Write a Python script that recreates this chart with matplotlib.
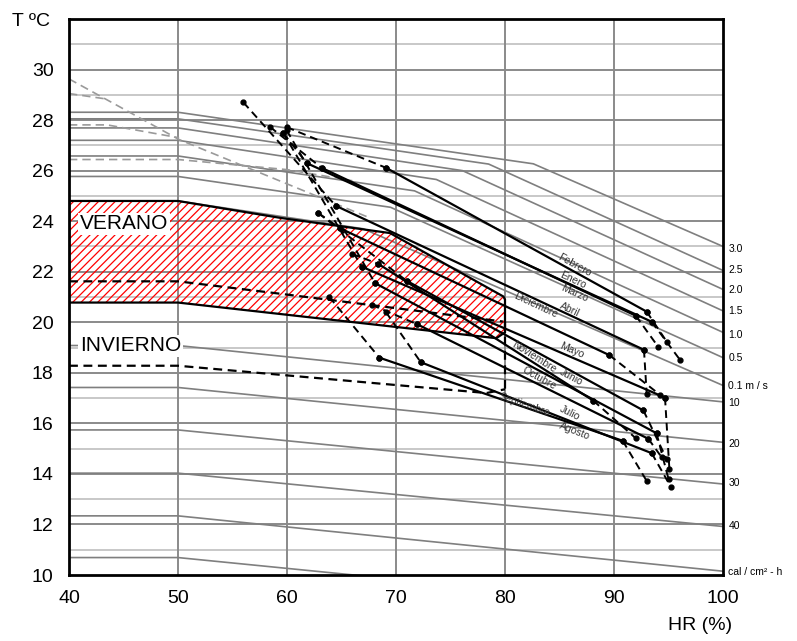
import math
import matplotlib.pyplot as plt
from matplotlib.patches import Polygon

plt.rcParams['font.family'] = ['Liberation Sans', 'DejaVu Sans']
plt.rcParams['hatch.linewidth'] = 0.9

# ejes
hr_ticks = [40, 50, 60, 70, 80, 90, 100]
t_ticks = [10, 12, 14, 16, 18, 20, 22, 24, 26, 28, 30]

# lineas de viento (m/s)
wind_labels = ['3.0', '2.5', '2.0', '1.5', '1.0', '0.5', '0.1 m / s']
wind_label_t = [22.9, 22.05, 21.27, 20.43, 19.49, 18.57, 17.46]
wind_hr = [
    [40, 50, 82.6, 100],
    [40, 50, 78.5, 100],
    [40, 50, 76.1, 100],
    [40, 50, 73.7, 100],
    [40, 50, 71.7, 100],
    [40, 50, 69.5, 100],
    [40, 50, 67.0, 100],
]
wind_t = [
    [28.31, 28.31, 26.27, 23.0],
    [28.05, 28.05, 26.26, 22.05],
    [27.69, 27.69, 26.0, 21.3],
    [27.2, 27.2, 25.65, 20.45],
    [26.58, 26.58, 25.2, 19.6],
    [25.77, 25.77, 24.55, 18.6],
    [24.8, 24.8, 23.7, 17.5],
]

# lineas de radiacion (cal / cm2 - h)
rad_labels = ['10', '20', '30', '40', 'cal / cm² - h']
rad_label_t = [16.81, 15.2, 13.64, 11.94, 10.13]
rad_start = [19.08, 17.42, 15.74, 14.03, 12.34, 10.69]
rad_end = [16.85, 15.25, 13.6, 11.92, 10.15, 8.55]

# lineas de humedad (discontinuas grises)
evap_hr = [
    [40, 50.1, 67.6],
    [40, 43.5],
    [40, 43.5, 50.1],
    [40, 50, 60.0, 66.0],
]
evap_t = [
    [29.63, 27.23, 24.13],
    [29.05, 28.83],
    [27.81, 27.81, 27.3],
    [26.44, 26.44, 26.04, 25.6],
]

# zona de confort de verano
summer_hr = [40, 50, 59.4, 69.45, 79.85, 80.0, 80.0, 79.2, 50, 40]
summer_t = [24.8, 24.8, 24.13, 23.53, 21.02, 20.9, 19.6, 19.37, 20.78, 20.78]

# zona de confort de invierno
winter_top_hr = [40, 50, 59.36, 79.8]
winter_top_t = [21.62, 21.62, 21.13, 20.03]
winter_bot_hr = [40, 50, 78.3, 80.0]
winter_bot_t = [18.28, 18.28, 17.2, 17.35]

# datos mensuales
months = ['Enero', 'Febrero', 'Marzo', 'Abril', 'Mayo', 'Junio', 'Julio',
          'Agosto', 'Septiembre', 'Octubre', 'Noviembre', 'Diciembre']
tmax_abs_hr = [58.44, 59.97, 59.66, 56.0, 59.66, 59.97, 67.77, 69.08, 63.88, 62.87, 65.93, 62.87]
tmax_abs = [27.73, 27.72, 27.49, 28.70, 27.49, 27.6, 20.69, 20.40, 21.0, 24.32, 22.71, 24.32]
tmax_hr = [63.18, 69.1, 61.8, 64.47, 66.85, 68.07, 71.9, 72.27, 68.47, 70.98, 68.38, 64.86]
tmax = [26.11, 26.11, 26.30, 24.61, 22.2, 21.55, 19.93, 18.42, 18.6, 21.64, 22.31, 23.72]
tmin_hr = [92.0, 93.0, 93.46, 92.75, 94.68, 93.9, 93.15, 93.46, 90.8, 92.7, 88.1, 89.57]
tmin = [20.26, 20.42, 20.02, 18.91, 17.02, 15.61, 15.39, 14.82, 15.31, 16.51, 16.9, 18.70]
tmin_abs_hr = [94.07, 94.84, 96.06, 93.0, 95.08, 95.0, 94.37, 95.2, 93.0, 94.83, 92.0, 94.22]
tmin_abs = [19.02, 19.23, 18.51, 17.17, 14.2, 13.8, 14.66, 13.5, 13.72, 14.59, 15.41, 17.13]

label_hr = [86.2, 86.42, 86.33, 85.96, 86.11, 86.11, 85.96, 86.42, 81.8, 83.15, 82.66, 82.84]
label_t = [21.66, 22.24, 21.13, 20.5, 18.88, 17.81, 16.4, 15.68, 16.73, 17.79, 18.62, 20.67]

fig = plt.figure(figsize=(7.97, 6.41), dpi=100)
ax = fig.add_axes([69 / 797, 66 / 641, 654 / 797, 556 / 641])
ax.set_xlim(40, 100)
ax.set_ylim(10, 32)

# rejilla
for t in range(11, 32):
    ax.axhline(t, color='#8a8a8a' if t % 2 == 0 else '#c8c8c8', lw=1.4, zorder=1)
for h in hr_ticks[1:-1]:
    ax.axvline(h, color='#8a8a8a', lw=1.4, zorder=1)

for hr, t in zip(wind_hr, wind_t):
    ax.plot(hr, t, color='#7f7f7f', lw=1.2, zorder=2)
for t0, t1 in zip(rad_start, rad_end):
    ax.plot([40, 50, 100], [t0, t0, t1], color='#7f7f7f', lw=1.2, zorder=2)
for hr, t in zip(evap_hr, evap_t):
    ax.plot(hr, t, color='#9a9a9a', lw=1.2, ls=(0, (5, 3)), zorder=2)

# verano
ax.add_patch(Polygon(list(zip(summer_hr, summer_t)), closed=True, facecolor='none',
                     edgecolor='red', lw=0, hatch='////', zorder=3))
ax.add_patch(Polygon(list(zip(summer_hr, summer_t)), closed=True, facecolor='none',
                     edgecolor='black', lw=1.6, zorder=3))

# invierno
ax.plot(winter_top_hr, winter_top_t, color='black', lw=1.6, ls=(0, (4, 2.5)), zorder=3)
ax.plot(winter_bot_hr, winter_bot_t, color='black', lw=1.6, ls=(0, (4, 2.5)), zorder=3)
ax.plot([80, 80], [winter_top_t[-1], winter_bot_t[-1]], color='black', lw=1.6,
        ls=(0, (4, 2.5)), zorder=3)

ax.text(41.0, 23.9, 'VERANO', fontsize=15, va='center', zorder=5,
        bbox=dict(facecolor='white', edgecolor='none', pad=1))
ax.text(41.0, 19.07, 'INVIERNO', fontsize=15, va='center', zorder=5,
        bbox=dict(facecolor='white', edgecolor='none', pad=1))

# meses
for i, name in enumerate(months):
    ax.plot([tmax_abs_hr[i], tmax_hr[i]], [tmax_abs[i], tmax[i]], color='black',
            lw=1.4, ls=(0, (4, 2.5)), marker='o', ms=3.5, zorder=4)
    ax.plot([tmax_hr[i], tmin_hr[i]], [tmax[i], tmin[i]], color='black',
            lw=1.6, marker='o', ms=3.5, zorder=4)
    ax.plot([tmin_hr[i], tmin_abs_hr[i]], [tmin[i], tmin_abs[i]], color='black',
            lw=1.4, ls=(0, (4, 2.5)), marker='o', ms=3.5, zorder=4)
    p0 = ax.transData.transform((tmax_hr[i], tmax[i]))
    p1 = ax.transData.transform((tmin_hr[i], tmin[i]))
    ang = math.degrees(math.atan2(p1[1] - p0[1], p1[0] - p0[0]))
    ax.text(label_hr[i], label_t[i], name, fontsize=7.5, color='#333333', rotation=ang,
            rotation_mode='anchor', ha='center', va='center', zorder=5)

# etiquetas a la derecha
for lab, t in zip(wind_labels, wind_label_t):
    ax.text(100.5, t, lab, fontsize=7.5, va='center', ha='left', clip_on=False)
for lab, t in zip(rad_labels, rad_label_t):
    ax.text(100.5, t, lab, fontsize=7.5, va='center', ha='left', clip_on=False)

ax.set_xticks(hr_ticks)
ax.set_yticks(t_ticks)
ax.tick_params(length=0, labelsize=14, pad=11)
for s in ax.spines.values():
    s.set_linewidth(2)
    s.set_zorder(6)

fig.text(12 / 797, 1 - 22 / 641, 'T ºC', fontsize=14, va='center')
fig.text(668 / 797, 1 - 626 / 641, 'HR (%)', fontsize=14, va='center')

fig.savefig('out.png', dpi=100)
